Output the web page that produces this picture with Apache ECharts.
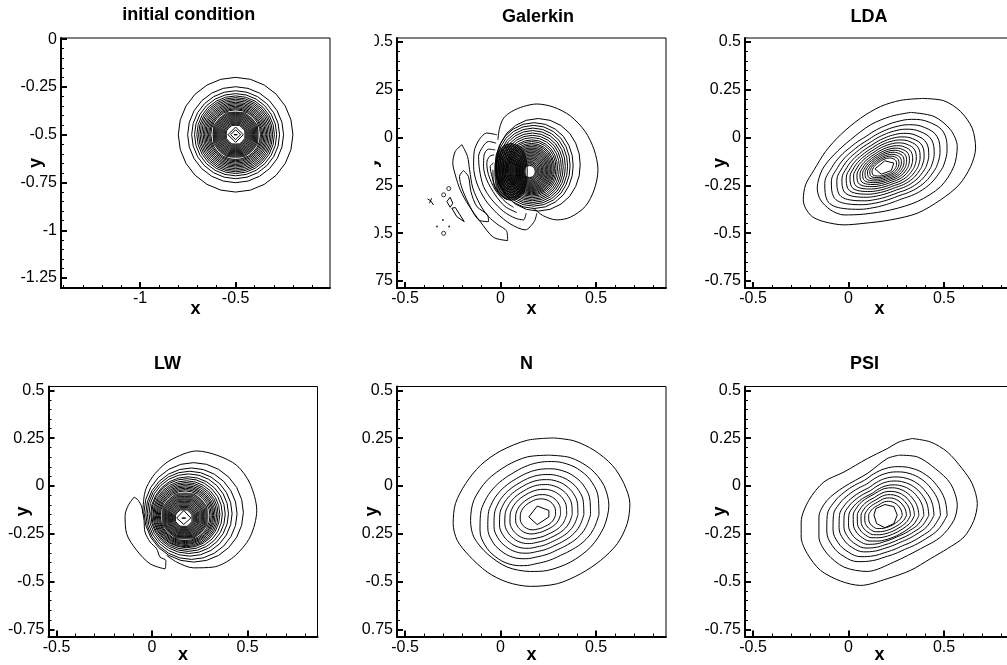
<!DOCTYPE html>
<html><head><meta charset="utf-8">
<style>html,body{margin:0;padding:0;background:#fff;overflow:hidden}#c{width:1007px;height:665px}</style>
<script src="https://cdn.jsdelivr.net/npm/echarts@6/dist/echarts.min.js"></script>
</head><body><div id="c"></div>
<script>
// ---- tick labels
const xTicksA=[-1,-0.5], yTicksA=[0,-0.25,-0.5,-0.75,-1,-1.25];
const xTicksB=[-0.5,0,0.5], yTicksB=[0.5,0.25,0,-0.25,-0.5,-0.75];
const panelTitles=['initial condition','Galerkin','LDA','LW','N','PSI'];
// ---- angular shapes (relative radius, equal angle steps from +x, counter-clockwise)
const roundShape=[1,1,1,1,1,1,1,1,1,1,1,1,1,1,1,1,1,1,1,1,1,1,1,1];
const starShape=[.94,1,.97,1,.94,1,.97,1,.94,1,.97,1,.94,1,.97,1];
const galShape=[1,1.01,1.03,1.06,1.08,1.095,1.1,1.095,1.08,1.06,1.03,1.01,1,1.01,1.03,1.06,1.08,1.095,1.1,1.095,1.08,1.06,1.03,1.01];
const galDarkShape=[1,1.03,1.12,1.28,1.5,1.68,1.76,1.68,1.5,1.28,1.12,1.03,1,1.03,1.12,1.28,1.5,1.68,1.76,1.68,1.5,1.28,1.12,1.03];
const ldaShape=[.98,1.09,1.156,1.07,.93,.79,.69,.63,.60,.615,.66,.75,.87,1.02,1.09,.96,.80,.69,.625,.595,.60,.655,.74,.85];
const nShape=[1,1.025,1.03,1,.95,.89,.84,.80,.78,.795,.83,.875,.92,.96,.98,.96,.92,.855,.79,.765,.76,.80,.87,.94];
const psiShape=[1,.995,.963,.925,.872,.81,.749,.69,.652,.685,.749,.84,.925,.965,.973,.93,.856,.75,.668,.635,.631,.675,.754,.885];
const psiInnerShape=[1,.99,.96,.93,.89,.84,.79,.73,.70,.73,.79,.86,.93,.96,.97,.93,.87,.78,.72,.69,.69,.72,.79,.90];
// ---- initial condition
const icCentre=[-0.5,-0.5];
const icOuterR=[.300,.251,.230,.215,.203,.194,.186,.178,.170,.163,.156,.149,.142,.136,.130];
const icInnerR=[.124,.118,.112,.106,.1,.094,.088,.082,.076,.07,.064,.058,.052];
const icFillR=[.124,.05];
const icDiamonds=[[[-.46,-.5],[-.5,-.46],[-.54,-.5],[-.5,-.54],[-.46,-.5]],[[-.474,-.5],[-.5,-.474],[-.526,-.5],[-.5,-.526],[-.474,-.5]],[[-.491,-.5],[-.5,-.491],[-.509,-.5],[-.5,-.509],[-.491,-.5]]];
// ---- Galerkin
const galOuter=[[-.014,-.012],[-.005,.049],[.016,.101],[.059,.136],[.12,.162],[.19,.175],[.277,.159],[.365,.113],[.443,.031],[.49,-.065],[.51,-.169],[.49,-.274],[.443,-.361],[.365,-.417],[.295,-.431],[.225,-.41],[.173,-.37]];
const galRoundRings=[[.22,.197,-.143],[.204,.176,-.147],[.192,.172,-.148],[.181,.17,-.15],[.171,.168,-.152],[.161,.167,-.154],[.152,.166,-.156],[.143,.165,-.158],[.134,.164,-.16],[.127,.163,-.161],[.12,.162,-.163],[.114,.162,-.164]];
const galStarRings=[[.108,.161,-.165],[.102,.16,-.167],[.096,.159,-.168],[.09,.158,-.169],[.084,.158,-.17],[.078,.157,-.171],[.072,.156,-.172],[.066,.155,-.173],[.06,.155,-.174],[.054,.154,-.175],[.048,.153,-.176],[.042,.153,-.177],[.036,.152,-.177],[.03,.152,-.178]];
const galDarkCentre=[.055,-.18];
const galDarkR=[.085,.077,.069,.061,.053,.045,.037,.029];
const galFillRing=[.11,.161,-.165];
const galWhiteRing=[.028,.152,-.178];
const galLeft=[
 [[-.202,-.038],[-.237,-.073],[-.25,-.134],[-.237,-.195],[-.211,-.274],[-.168,-.353],[-.106,-.44],[-.037,-.522],[.037,-.539],[.033,-.492],[-.019,-.452],[-.063,-.414],[-.106,-.353],[-.145,-.265],[-.162,-.169],[-.173,-.099],[-.202,-.038]],
 [[-.194,-.173],[-.215,-.204],[-.202,-.265],[-.168,-.344],[-.115,-.431],[-.063,-.44],[-.068,-.405],[-.124,-.361],[-.155,-.283],[-.168,-.204],[-.194,-.173]],
 [[-.019,.014],[-.072,.023],[-.11,-.009],[-.138,-.073],[-.141,-.152],[-.124,-.239],[-.08,-.326],[-.019,-.396],[.051,-.452],[.129,-.483],[.176,-.44],[.19,-.396]],
 [[-.023,-.03],[-.063,-.021],[-.092,-.047],[-.115,-.099],[-.11,-.169],[-.089,-.257],[-.045,-.326],[.016,-.387],[.077,-.422],[.12,-.431],[.134,-.396]],
 [[-.028,-.065],[-.063,-.061],[-.086,-.091],[-.089,-.152],[-.072,-.222],[-.028,-.3],[.024,-.361],[.086,-.393]],
 [[-.033,-.091],[-.058,-.099],[-.072,-.134],[-.063,-.195],[-.028,-.274],[.024,-.335],[.068,-.365]],
 [[-.037,-.134],[-.054,-.152],[-.045,-.204],[-.019,-.274],[.033,-.326]],
 [[-.04,-.169],[-.037,-.239],[-.002,-.3],[.042,-.326]]];
const galSpecks=[
 [[-.281,-.335],[-.264,-.312],[-.25,-.344],[-.264,-.365],[-.281,-.335]],
 [[-.255,-.37],[-.237,-.366],[-.19,-.44],[-.229,-.414],[-.255,-.37]],
 [[-.382,-.321],[-.365,-.332],[-.351,-.353]],
 [[-.372,-.344],[-.361,-.318]]];
const galOpenDots=[[-.298,-.3],[-.271,-.267],[-.298,-.501]];
const galSolidDots=[[-.333,-.466],[-.302,-.431],[-.269,-.466]];
// ---- LDA
const ldaPeak=[.185,-.158];
const ldaOutlines=[
 [[.386,.204],[.499,.192],[.586,.136],[.647,.049],[.665,-.056],[.639,-.152],[.578,-.248],[.482,-.326],[.36,-.396],[.22,-.431],[.08,-.449],[-.024,-.457],[-.129,-.44],[-.19,-.414],[-.225,-.37],[-.237,-.326],[-.225,-.248],[-.18,-.169],[-.12,-.073],[-.042,.014],[.063,.101],[.168,.162],[.272,.194],[.386,.204]],
 [[.325,.131],[.447,.11],[.534,.04],[.569,-.047],[.551,-.152],[.482,-.257],[.36,-.335],[.22,-.379],[.08,-.401],[-.024,-.405],[-.094,-.379],[-.147,-.326],[-.164,-.265],[-.138,-.169],[-.077,-.091],[.01,-.012],[.115,.066],[.22,.11],[.325,.131]],
 [[.138,-.164],[.19,-.122],[.237,-.134],[.224,-.173],[.171,-.192],[.138,-.164]]];
const ldaScale=[.314,.279,.25,.223,.2,.18,.161,.143,.127,.113,.1,.087,.075,.063];
// ---- LW
const lwOuter=[[-.049,-.145],[-.042,-.058],[-.028,-.005],[.016,.065],[.094,.134],[.234,.183],[.339,.161],[.443,.108],[.513,.012],[.548,-.127],[.513,-.267],[.426,-.372],[.321,-.424],[.216,-.428],[.129,-.398],[.077,-.363]];
const lwCrescent=[[-.094,-.058],[-.124,-.101],[-.141,-.154],[-.133,-.25],[-.08,-.337],[-.01,-.407],[.068,-.433],[.072,-.389],[.042,-.372],[.024,-.328],[-.01,-.293],[-.037,-.241],[-.042,-.18],[-.054,-.11],[-.072,-.075],[-.094,-.058]];
const lwRoundRings=[[.26,.218,-.138],[.239,.206,-.145],[.222,.197,-.145],[.208,.192,-.145],[.195,.188,-.147],[.185,.183,-.147],[.175,.18,-.148],[.168,.178,-.15],[.161,.177,-.151],[.154,.176,-.152],[.148,.175,-.153],[.142,.175,-.154],[.136,.174,-.155],[.13,.173,-.156]];
const lwStarRings=[[.124,.172,-.157],[.118,.172,-.158],[.112,.171,-.16],[.106,.17,-.161],[.1,.17,-.162],[.094,.17,-.162],[.088,.169,-.163],[.082,.168,-.164],[.076,.168,-.165],[.07,.167,-.166],[.064,.167,-.167],[.058,.167,-.167],[.052,.167,-.168],[.046,.166,-.168]];
const lwFillRing=[.126,.172,-.157];
const lwWhiteRing=[.044,.166,-.168];
const lwDiamonds=[[[.203,-.168],[.166,-.128],[.129,-.168],[.166,-.201],[.203,-.168]],[[.176,-.168],[.166,-.158],[.156,-.168],[.166,-.178],[.176,-.168]]];
// ---- N
const nPeak=[.192,-.15];
const nOutlines=[
 [[.279,.251],[.384,.236],[.489,.187],[.585,.108],[.646,.012],[.677,-.092],[.663,-.197],[.611,-.302],[.524,-.389],[.419,-.459],[.297,-.511],[.157,-.525],[.035,-.503],[-.07,-.45],[-.166,-.363],[-.227,-.284],[-.248,-.197],[-.236,-.092],[-.183,.012],[-.105,.108],[0,.183],[.14,.239],[.279,.251]],
 [[.253,.161],[.366,.148],[.471,.09],[.541,.003],[.567,-.101],[.541,-.215],[.471,-.32],[.366,-.398],[.244,-.442],[.157,-.447],[.035,-.424],[-.07,-.354],[-.14,-.267],[-.157,-.18],[-.14,-.075],[-.07,.03],[.035,.108],[.14,.152],[.253,.161]],
 [[.148,-.162],[.192,-.105],[.253,-.128],[.253,-.162],[.192,-.202],[.148,-.162]]];
const nScale=[.323,.279,.244,.213,.183,.154,.122,.096];
// ---- PSI
const psiPeak=[.19,-.154];
const psiOutlines=[
 [[.333,.248],[.429,.23],[.517,.178],[.595,.09],[.647,.012],[.674,-.092],[.656,-.18],[.604,-.267],[.517,-.328],[.429,-.38],[.325,-.441],[.202,-.485],[.063,-.52],[-.042,-.497],[-.147,-.441],[-.216,-.354],[-.248,-.267],[-.248,-.189],[-.208,-.075],[-.129,.021],[-.024,.073],[.098,.143],[.202,.195],[.264,.23],[.333,.248]],
 [[.264,.161],[.36,.152],[.455,.09],[.534,.012],[.569,-.101],[.551,-.18],[.482,-.267],[.377,-.328],[.237,-.398],[.098,-.447],[-.024,-.424],[-.112,-.354],[-.155,-.267],[-.155,-.162],[-.112,-.075],[-.024,-.005],[.098,.065],[.202,.143],[.264,.161]],
 [[.255,-.152],[.237,-.108],[.19,-.097],[.143,-.118],[.133,-.152],[.147,-.197],[.19,-.218],[.237,-.197],[.255,-.152]]];
const psiScale=[.326,.291,.257,.23,.204];
const psiInnerScale=[.178,.155,.134,.113,.091];

// ---- helpers: polar readings to x/y
function ring(cx,cy,r,shape){const p=[];const n=shape.length;
 for(let i=0;i<=n;i++){const a=2*Math.PI*(i%n)/n;p.push([cx+r*shape[i%n]*Math.cos(a),cy+r*shape[i%n]*Math.sin(a)]);}return p;}
const rowsToRings=(rows,shape)=>rows.map(r=>ring(r[1],r[2],r[0],shape));
const peakRings=(peak,scales,shape)=>scales.map(s=>ring(peak[0],peak[1],s,shape));

const gray='#a6a6a6', dark='#5c5c5c', white='#fff';
const xRange=[-0.542,0.866], yRange=[-0.787,0.52];
const panels=[
 {grid:[61,38],xr:[-1.414,-0.006],yr:[-1.302,0.006],xt:xTicksA,yt:yTicksA,title:[188.7,6],xGap:12,
  fills:[[ring(icCentre[0],icCentre[1],icFillR[0],roundShape),gray],[ring(icCentre[0],icCentre[1],icFillR[1],starShape),white]],
  outline:[],rings:[...peakRings(icCentre,icOuterR,roundShape),...icDiamonds],
  dense:peakRings(icCentre,icInnerR,starShape)},
 {grid:[397,38],xr:xRange,yr:yRange,xt:xTicksB,yt:yTicksB,title:[538,8],xGap:12,
  fills:[[ring(galFillRing[1],galFillRing[2],galFillRing[0],galShape),gray],[ring(galDarkCentre[0],galDarkCentre[1],galDarkR[0],galDarkShape),dark],[ring(galWhiteRing[1],galWhiteRing[2],galWhiteRing[0],starShape),white]],
  outline:[galOuter,...galLeft],rings:[...rowsToRings(galRoundRings,galShape),...galSpecks],
  dense:[...rowsToRings(galStarRings,galShape),...peakRings(galDarkCentre,galDarkR,galDarkShape)],open:galOpenDots,solid:galSolidDots},
 {grid:[745,38],xr:xRange,yr:yRange,xt:xTicksB,yt:yTicksB,title:[869,8],xGap:12,
  outline:ldaOutlines.slice(0,2),soft:peakRings(ldaPeak,ldaScale,ldaShape),rings:[ldaOutlines[2]],dense:[]},
 {grid:[48.5,386.5],xr:xRange,yr:yRange,xt:xTicksB,yt:yTicksB,title:[167.5,355],xGap:10,
  fills:[[ring(lwFillRing[1],lwFillRing[2],lwFillRing[0],roundShape),gray],[ring(lwWhiteRing[1],lwWhiteRing[2],lwWhiteRing[0],starShape),white]],
  outline:[lwOuter,lwCrescent],rings:[...rowsToRings(lwRoundRings,roundShape),...lwDiamonds],
  dense:rowsToRings(lwStarRings,starShape)},
 {grid:[397,386.5],xr:xRange,yr:yRange,xt:xTicksB,yt:yTicksB,title:[526.5,355],xGap:10,
  outline:nOutlines.slice(0,2),soft:peakRings(nPeak,nScale,nShape),rings:[nOutlines[2]],dense:[]},
 {grid:[745,386.5],xr:xRange,yr:yRange,xt:xTicksB,yt:yTicksB,title:[864.5,355],xGap:10,
  outline:psiOutlines.slice(0,2),soft:[...peakRings(psiPeak,psiScale,psiShape),...peakRings(psiPeak,psiInnerScale,psiInnerShape)],rings:[psiOutlines[2]],dense:[]}
];
function minors(lo,hi,step){const o=[];for(let i=Math.ceil(lo/step);i*step<=hi;i++)o.push(+(i*step).toFixed(3));return o;}
const font='"Liberation Sans",Arial,sans-serif';
const opt={animation:false,backgroundColor:'#fff',title:[],grid:[],xAxis:[],yAxis:[],series:[],
 graphic:[
  {type:'rect',z:1000,shape:{x:340,y:28,width:34.5,height:270},style:{fill:'#fff'},silent:true},
  {type:'rect',z:1000,shape:{x:340,y:376,width:21,height:270},style:{fill:'#fff'},silent:true}
 ]};
panels.forEach((p,k)=>{
 opt.title.push({text:panelTitles[k],left:p.title[0],top:p.title[1],textAlign:'center',padding:0,
  textStyle:{fontFamily:font,fontSize:18,fontWeight:'bold',color:'#000'}});
 opt.grid.push({left:p.grid[0],top:p.grid[1],width:269,height:250,show:true,borderColor:'#000',borderWidth:1,backgroundColor:'#fff',containLabel:false,outerBoundsMode:'none'});
 const major=(xa)=>({
  type:'value',gridIndex:k,min:xa?p.xr[0]:p.yr[0],max:xa?p.xr[1]:p.yr[1],position:xa?'bottom':'left',
  splitLine:{show:false},
  axisLine:{show:true,onZero:false,lineStyle:{color:'#000',width:2}},
  axisTick:{show:true,inside:true,length:6,lineStyle:{color:'#000',width:2},customValues:xa?p.xt:p.yt},
  axisLabel:{show:true,inside:false,margin:xa?3:4,color:'#000',fontFamily:font,fontSize:16,customValues:xa?p.xt:p.yt,
   formatter:v=>String(v),hideOverlap:false},
  name:xa?'x':'y',nameLocation:'middle',nameGap:xa?p.xGap:16,nameRotate:xa?0:90,nameMoveOverlap:false,
  nameTextStyle:{fontFamily:font,fontSize:18,fontWeight:'bold',color:'#000'}});
 const minor=(xa)=>({
  type:'value',gridIndex:k,min:xa?p.xr[0]:p.yr[0],max:xa?p.xr[1]:p.yr[1],position:xa?'bottom':'left',
  splitLine:{show:false},axisLine:{show:false,onZero:false},axisLabel:{show:false},
  axisTick:{show:true,inside:true,length:3,lineStyle:{color:'#000',width:1},
   customValues:xa?minors(p.xr[0],p.xr[1],0.1):minors(p.yr[0],p.yr[1],0.05)}});
 opt.xAxis.push(major(true),minor(true));
 opt.yAxis.push(major(false),minor(false));
 const base={type:'line',xAxisIndex:2*k,yAxisIndex:2*k,showSymbol:false,symbol:'none',silent:true,z:3,smooth:false,
  lineStyle:{color:'#000',width:1}};
 (p.fills||[]).forEach(([pts,color],i)=>opt.series.push({type:'custom',coordinateSystem:'cartesian2d',xAxisIndex:2*k,yAxisIndex:2*k,silent:true,z:2+i*0.01,
   encode:{x:0,y:1},data:pts,
   renderItem:(params,api)=>params.dataIndex===0?{type:'polygon',shape:{points:pts.map(q=>api.coord(q))},style:{fill:color}}:null}));
 p.outline.forEach(d=>opt.series.push({...base,smooth:.3,data:d}));
 (p.soft||[]).forEach(d=>opt.series.push({...base,smooth:.4,data:d}));
 p.rings.forEach(d=>opt.series.push({...base,data:d}));
 p.dense.forEach(d=>opt.series.push({...base,data:d,lineStyle:{color:'#000',width:.85}}));
 if(p.open)opt.series.push({type:'scatter',xAxisIndex:2*k,yAxisIndex:2*k,symbol:'circle',symbolSize:4,silent:true,
   itemStyle:{color:'#fff',borderColor:'#000',borderWidth:1},data:p.open});
 if(p.solid)opt.series.push({type:'scatter',xAxisIndex:2*k,yAxisIndex:2*k,symbol:'circle',symbolSize:2,silent:true,
   itemStyle:{color:'#000'},data:p.solid});
});
echarts.init(document.getElementById('c'),null,{renderer:'canvas'}).setOption(opt);
</script></body></html>
